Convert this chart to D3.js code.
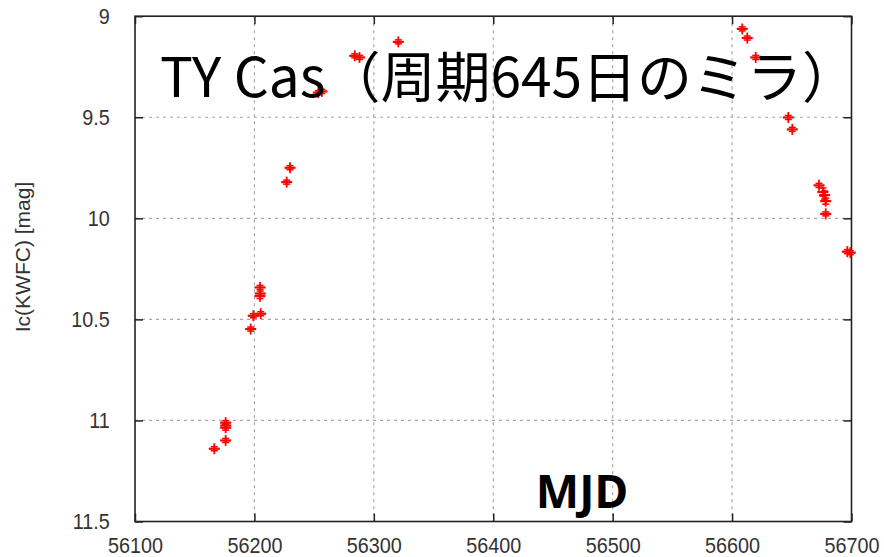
<!DOCTYPE html>
<html><head><meta charset="utf-8">
<script src="https://cdn.jsdelivr.net/npm/d3@7"></script>
<style>
html,body{margin:0;padding:0;background:#fff;}
svg{display:block;}
</style></head>
<body>
<svg id="chart" width="884" height="557"></svg>
<script>
// ---- data ----
const mjd = [56166.4, 56175.9, 56175.9, 56176.0, 56175.9, 56196.9, 56199.1, 56205.3, 56204.7, 56204.9, 56204.7,
             56227.0, 56229.8, 56253.5, 56256.5, 56284.0, 56288.0, 56320.5,
             56608.5, 56612.7, 56619.8, 56647.1, 56650.4, 56672.8, 56676.0, 56677.5, 56678.4, 56678.4, 56696.5, 56699.0];
const mag = [11.140, 11.099, 11.036, 11.025, 11.011, 10.548, 10.482, 10.472, 10.385, 10.372, 10.342,
             9.821, 9.750, 9.378, 9.372, 9.196, 9.204, 9.127,
             9.063, 9.108, 9.204, 9.501, 9.560, 9.837, 9.870, 9.885, 9.915, 9.978, 10.165, 10.170];
const magErr = [0.010, 0.010, 0.012, 0.012, 0.010, 0.010, 0.010, 0.010, 0.012, 0.012, 0.010,
                0.010, 0.010, 0.010, 0.010, 0.010, 0.010, 0.010,
                0.010, 0.010, 0.010, 0.010, 0.010, 0.010, 0.020, 0.020, 0.015, 0.010, 0.010, 0.010];
const xTicks = [56100, 56200, 56300, 56400, 56500, 56600, 56700];
const yTicks = [9, 9.5, 10, 10.5, 11, 11.5];
const titleText = "TY Cas（周期645日のミラ）";
const xLabel = "MJD";
const yLabel = "Ic(KWFC) [mag]";

// ---- layout ----
const svg = d3.select("#chart");
const L = 135, R = 851.5, T = 16.2, B = 521.5;
const x = d3.scaleLinear().domain([56100, 56700]).range([L, R]);
const y = d3.scaleLinear().domain([9, 11.5]).range([T, B]);
const tickFont = "'Liberation Sans', Arial, sans-serif";

// grid
const grid = svg.append("g");
grid.selectAll("line.vx").data(xTicks.slice(1, -1)).join("line")
  .attr("x1", d => x(d)).attr("x2", d => x(d)).attr("y1", T).attr("y2", B)
  .attr("stroke", "#a8a8a8").attr("stroke-width", 1.2).attr("stroke-dasharray", "3,4");
grid.selectAll("line.hy").data(yTicks.slice(1, -1)).join("line")
  .attr("x1", L).attr("x2", R).attr("y1", d => y(d)).attr("y2", d => y(d))
  .attr("stroke", "#a8a8a8").attr("stroke-width", 1.2).attr("stroke-dasharray", "3,4");

// axes (ticks inward on all sides)
const tickLen = 8;
const axB = svg.append("g").attr("transform", `translate(0,${B})`)
  .call(d3.axisBottom(x).tickValues(xTicks).tickFormat(d3.format("d")).tickSizeInner(-tickLen).tickSizeOuter(0).tickPadding(16));
const axT = svg.append("g").attr("transform", `translate(0,${T})`)
  .call(d3.axisTop(x).tickValues(xTicks).tickFormat("").tickSizeInner(-tickLen).tickSizeOuter(0));
const axL = svg.append("g").attr("transform", `translate(${L},0)`)
  .call(d3.axisLeft(y).tickValues(yTicks).tickFormat(d3.format("")).tickSizeInner(-tickLen).tickSizeOuter(0).tickPadding(28));
const axR = svg.append("g").attr("transform", `translate(${R},0)`)
  .call(d3.axisRight(y).tickValues(yTicks).tickFormat("").tickSizeInner(-tickLen).tickSizeOuter(0));
[axB, axT, axL, axR].forEach(a => {
  a.select(".domain").remove();
  a.selectAll(".tick line").attr("stroke", "#222").attr("stroke-width", 1.5);
  a.selectAll(".tick text").attr("fill", "#333").style("font-family", tickFont).style("font-size", "22px");
});
axB.selectAll(".tick text").attr("transform", "scale(0.9,1)");
axL.selectAll(".tick text").attr("transform", "scale(0.9,1)");

// frame
svg.append("rect").attr("x", L).attr("y", T).attr("width", R - L).attr("height", B - T)
  .attr("fill", "none").attr("stroke", "#222").attr("stroke-width", 1.6);

// y label
svg.append("text").attr("transform", "translate(30,257) rotate(-90)")
  .attr("text-anchor", "middle").attr("fill", "#333")
  .style("font-family", tickFont).style("font-size", "21px").text(yLabel);

// data points: plus marker with error bars
const pts = svg.append("g");
const data = mjd.map((m, i) => ({m, v: mag[i], e: magErr[i]}));
const g = pts.selectAll("g").data(data).join("g")
  .attr("transform", d => `translate(${x(d.m)},${y(d.v)})`);
g.append("line").attr("x1", -5.5).attr("x2", 5.5).attr("y1", 0).attr("y2", 0)
  .attr("stroke", "#ff0000").attr("stroke-width", 2.2);
g.append("line").attr("x1", 0).attr("x2", 0).attr("y1", -5.5).attr("y2", 5.5)
  .attr("stroke", "#ff0000").attr("stroke-width", 1.8);
g.append("line").attr("x1", 0).attr("x2", 0)
  .attr("y1", d => y(d.v - d.e) - y(d.v)).attr("y2", d => y(d.v + d.e) - y(d.v))
  .attr("stroke", "#ff0000").attr("stroke-width", 1.8);
g.append("line").attr("x1", -3.5).attr("x2", 3.5)
  .attr("y1", d => y(d.v - d.e) - y(d.v)).attr("y2", d => y(d.v - d.e) - y(d.v))
  .attr("stroke", "#ff0000").attr("stroke-width", 1.5);
g.append("line").attr("x1", -3.5).attr("x2", 3.5)
  .attr("y1", d => y(d.v + d.e) - y(d.v)).attr("y2", d => y(d.v + d.e) - y(d.v))
  .attr("stroke", "#ff0000").attr("stroke-width", 1.5);

// title
svg.append("text").attr("x", 160).attr("y", 97)
  .attr("fill", "#000")
  .style("font-family", "'Noto Sans CJK JP', 'Noto Sans', sans-serif")
  .style("font-size", "55px").text(titleText);

// x label
svg.append("text").attr("x", 582).attr("y", 508).attr("text-anchor", "middle")
  .attr("fill", "#000")
  .style("font-family", "'Noto Sans', 'Open Sans', sans-serif").style("font-weight", "bold")
  .style("font-size", "46px").text(xLabel);
</script>
</body></html>
